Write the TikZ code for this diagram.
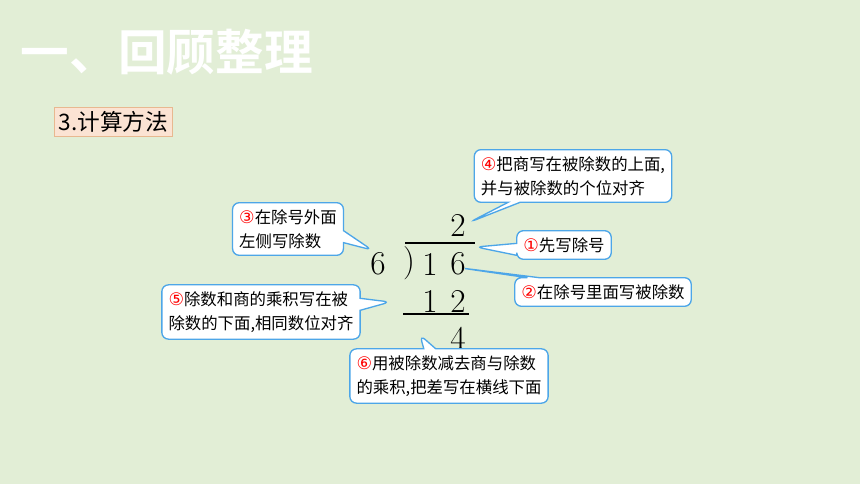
\documentclass[tikz,border=0pt]{standalone}
\usepackage{fontspec}
\setmainfont{Latin Modern Roman}
\newfontfamily\cjk{Noto Sans CJK SC}
\newfontfamily\cjkbold{Noto Sans CJK SC Bold}
\newfontfamily\circfont{DejaVu Sans}
\usetikzlibrary{shapes.callouts}
\definecolor{bgreen}{HTML}{E2EED6}
\definecolor{tipblue}{HTML}{4DA6E8}
\definecolor{peach}{HTML}{FBE3D3}
\definecolor{peachline}{HTML}{E8B890}
\newcommand{\red}[1]{\textcolor{red}{\circfont\fontsize{13}{17}\selectfont #1}}
\tikzset{
  tip/.style={rectangle callout,draw=tipblue,fill=white,line width=1pt,rounded corners=5pt,
    font=\cjk\fontsize{12.3}{18}\selectfont,align=left,inner sep=5pt,callout pointer width=9pt},
  digit/.style={font=\fontsize{25}{25}\selectfont,inner sep=0pt}
}
\begin{document}
\begin{tikzpicture}[x=0.75pt,y=-0.75pt]
  \fill[bgreen] (0,0) rectangle (860,484);
  \node[white,anchor=west,font=\cjkbold\fontsize{36.5}{36}\selectfont] (title) at (16,52) {一、回顾整理};
  \node[fill=peach,draw=peachline,line width=1pt,anchor=west,inner sep=3pt,font=\cjk\fontsize{17}{19}\selectfont] (topic) at (54,122) {3.计算方法};
  % long division
  \node[digit] (q) at (458,225) {2};
  \node[digit] (dv) at (378,264) {6};
  \node[digit] (br) at (409,263) {)};
  \node[digit] (d1) at (430,264) {1};
  \node[digit] (d2) at (458,264) {6};
  \node[digit] (p1) at (430,301) {1};
  \node[digit] (p2) at (458,301) {2};
  \node[digit] (r) at (458,338) {4};
  \coordinate (bar1) at (405,243);
  \coordinate (bar2) at (475,243);
  \coordinate (ul1) at (403,314);
  \coordinate (ul2) at (469,314);
  \draw[line width=1pt] (bar1) -- (bar2);
  \draw[line width=1pt] (ul1) -- (ul2);
  % callouts
  \node[tip,callout absolute pointer={(470,222)}] (c4) at (573,176) {\red{④}把商写在被除数的上面,\\并与被除数的个位对齐};
  \node[tip,callout absolute pointer={(372,250)}] (c3) at (288,229) {\red{③}在除号外面\\左侧写除数};
  \node[tip,callout absolute pointer={(476,247)}] (c1) at (564,245) {\red{①}先写除号};
  \node[tip,callout absolute pointer={(461,268)}] (c2) at (603,292) {\red{②}在除号里面写被除数};
  \node[tip,callout absolute pointer={(390,302)}] (c5) at (261,312) {\red{⑤}除数和商的乘积写在被\\除数的下面,相同数位对齐};
  \node[tip,callout absolute pointer={(420,335)}] (c6) at (449,376) {\red{⑥}用被除数减去商与除数\\的乘积,把差写在横线下面};
\end{tikzpicture}
\end{document}
